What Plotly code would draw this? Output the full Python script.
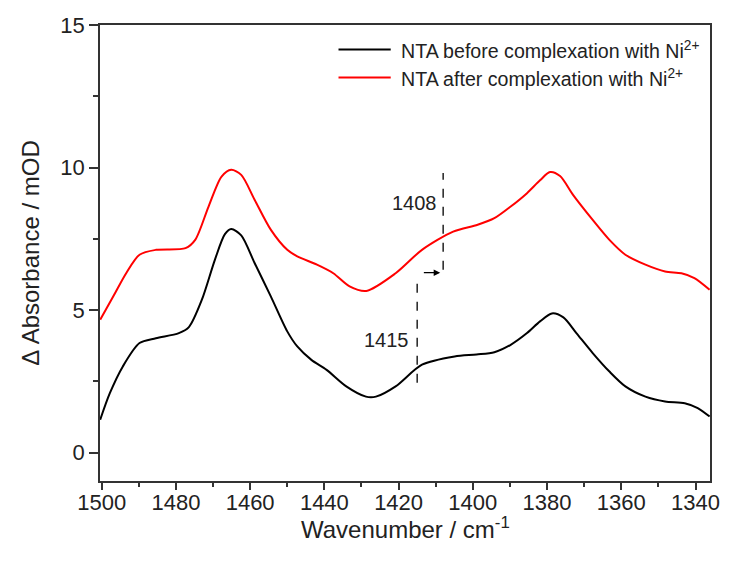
import plotly.graph_objects as go

# Difference FTIR spectra of NTA before / after Ni2+ complexation
wn_before = [1500.4, 1497.8, 1494.3, 1489.8, 1485.4, 1479.2, 1476.5, 1473.0, 1469.5, 1466.8,
             1465.1, 1462.4, 1458.8, 1454.4, 1450.0, 1447.3, 1443.5, 1439.4, 1434.1, 1428.8,
             1426.1, 1420.8, 1413.7, 1404.9, 1399.0, 1394.2, 1389.8, 1385.4, 1381.9, 1378.7,
             1375.6, 1372.1, 1367.7, 1363.2, 1358.9, 1353.5, 1348.2, 1342.9, 1339.4, 1336.2]
abs_before = [1.15, 2.08, 3.02, 3.84, 4.01, 4.19, 4.40, 5.36, 6.76, 7.66,
              7.84, 7.62, 6.65, 5.47, 4.25, 3.72, 3.25, 2.90, 2.32, 1.96,
              1.96, 2.32, 3.08, 3.37, 3.44, 3.52, 3.78, 4.19, 4.60, 4.88,
              4.74, 4.19, 3.49, 2.84, 2.32, 1.96, 1.79, 1.73, 1.56, 1.26]

wn_after = [1500.4, 1496.9, 1493.4, 1489.8, 1485.4, 1477.4, 1474.8, 1471.2, 1467.7, 1465.1,
            1462.4, 1458.8, 1454.4, 1450.0, 1447.3, 1442.0, 1437.6, 1433.2, 1428.7, 1420.8,
            1413.7, 1405.3, 1398.7, 1394.2, 1389.8, 1385.4, 1381.9, 1379.2, 1376.5, 1373.0,
            1367.7, 1363.2, 1358.9, 1353.5, 1348.2, 1343.8, 1340.3, 1336.2]
abs_after = [4.66, 5.47, 6.29, 6.94, 7.11, 7.17, 7.46, 8.63, 9.68, 9.92,
             9.74, 8.87, 7.81, 7.11, 6.88, 6.59, 6.29, 5.83, 5.67, 6.29,
             7.11, 7.75, 7.99, 8.22, 8.63, 9.10, 9.55, 9.84, 9.70, 9.04,
             8.16, 7.46, 6.94, 6.59, 6.35, 6.29, 6.12, 5.71]

series_names = ["NTA before complexation with Ni<sup>2+</sup>",
                "NTA after complexation with Ni<sup>2+</sup>"]
series_colors = ["#000000", "#ff0000"]

x_ticks = [1500, 1480, 1460, 1440, 1420, 1400, 1380, 1360, 1340]
y_ticks = [0, 5, 10, 15]

# band positions marked on the plot
band_before = 1415
band_after = 1408

FONT = "Liberation Sans, Arial, sans-serif"
TXT = "#222222"

fig = go.Figure()
for wn, ab, name, col in [(wn_before, abs_before, series_names[0], series_colors[0]),
                          (wn_after, abs_after, series_names[1], series_colors[1])]:
    fig.add_trace(go.Scatter(x=wn, y=ab, mode="lines", name=name,
                             line=dict(color=col, width=2, shape="spline", smoothing=0.8),
                             showlegend=False))

# dashed markers for the band shift
fig.add_shape(type="line", x0=band_before, x1=band_before, y0=2.45, y1=6.24,
              xref="x", yref="y", line=dict(color="#000", width=1.3, dash="dash"))
fig.add_shape(type="line", x0=band_after, x1=band_after, y0=6.41, y1=9.81,
              xref="x", yref="y", line=dict(color="#000", width=1.3, dash="dash"))
fig.add_annotation(x=band_after + 0.8, y=6.31, ax=band_before - 1.4, ay=6.31,
                   xref="x", yref="y", axref="x", ayref="y", text="",
                   showarrow=True, arrowhead=2, arrowsize=1, arrowwidth=1.3, arrowcolor="#000")
fig.add_annotation(x=band_after, y=8.75, text=str(band_after), showarrow=False,
                   xanchor="right", xshift=-4, font=dict(family=FONT, size=20, color=TXT))
fig.add_annotation(x=band_before, y=3.95, text=str(band_before), showarrow=False,
                   xanchor="right", xshift=-6, font=dict(family=FONT, size=20, color=TXT))

# legend drawn as line samples with labels
for i, (name, col) in enumerate(zip(series_names, series_colors)):
    yy = 0.946 - i * 0.0614
    fig.add_shape(type="line", xref="paper", yref="paper", x0=0.391, x1=0.4766, y0=yy, y1=yy,
                  line=dict(color=col, width=2))
    fig.add_annotation(xref="paper", yref="paper", x=0.4895, y=yy, text=name, showarrow=False,
                       xanchor="left", yanchor="middle",
                       font=dict(family=FONT, size=19.6, color=TXT))

# x-axis title placed under the tick labels
fig.add_annotation(xref="paper", yref="paper", x=0.5, y=-0.103, yanchor="middle",
                   text="Wavenumber / cm<sup>-1</sup>", showarrow=False,
                   font=dict(family=FONT, size=24, color=TXT))

axis_common = dict(showline=True, linewidth=1.5, linecolor="#333333", mirror=True,
                   ticks="outside", tickwidth=1.5, tickcolor="#333333",
                   showgrid=False, zeroline=False,
                   tickfont=dict(family=FONT, size=22, color=TXT))

fig.update_xaxes(range=[1500.45, 1336.1], tickvals=x_ticks, ticklen=7,
                 ticklabelstandoff=-6,
                 minor=dict(dtick=10, tick0=1340, ticklen=4, ticks="outside",
                            tickwidth=1.5, tickcolor="#333333", showgrid=False),
                 **axis_common)
fig.update_yaxes(range=[-1, 15], tickvals=y_ticks, ticklen=9,
                 minor=dict(dtick=2.5, tick0=0, ticklen=5, ticks="outside",
                            tickwidth=1.5, tickcolor="#333333", showgrid=False),
                 title=dict(text="Δ Absorbance / mOD",
                            font=dict(family=FONT, size=24, color=TXT), standoff=14),
                 **axis_common)

fig.update_layout(width=732, height=561, margin=dict(l=100, r=13, t=25, b=80),
                  plot_bgcolor="white", paper_bgcolor="white",
                  font=dict(family=FONT, color=TXT))

fig.write_html("out.html")
